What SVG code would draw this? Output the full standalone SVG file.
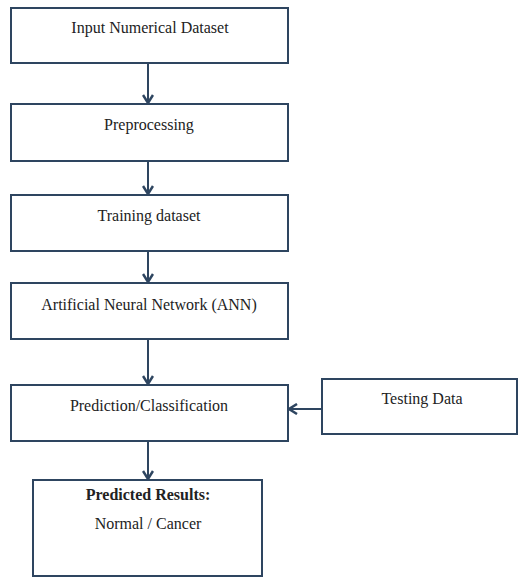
<svg xmlns="http://www.w3.org/2000/svg" width="518" height="578" viewBox="0 0 518 578">
<style>
.box{fill:#fff;stroke:#2e4560;stroke-width:2}
.t{font-family:"Liberation Serif","Times New Roman",serif;font-size:16px;fill:#222;text-anchor:middle}
.b{font-weight:bold}
.c{stroke:#2e4560;stroke-width:2;fill:none}
</style>
<defs>
<marker id="ah" markerWidth="12" markerHeight="12" viewBox="0 0 12 12" refX="10" refY="6" orient="auto" markerUnits="userSpaceOnUse">
<polyline points="2,1 10,6 2,11" fill="none" stroke="#2e4560" stroke-width="2.5"/>
</marker>
</defs>
<rect width="518" height="578" fill="#fff"/>
<g id="connectors">
<line class="c" x1="148" y1="64" x2="148" y2="103" marker-end="url(#ah)"/>
<line class="c" x1="148" y1="162" x2="148" y2="194" marker-end="url(#ah)"/>
<line class="c" x1="148" y1="252" x2="148" y2="282" marker-end="url(#ah)"/>
<line class="c" x1="148" y1="339" x2="148" y2="384" marker-end="url(#ah)"/>
<line class="c" x1="148" y1="442" x2="148" y2="479" marker-end="url(#ah)"/>
<line class="c" x1="322" y1="409" x2="289" y2="409" marker-end="url(#ah)"/>
</g>
<g id="n1"><rect class="box" x="11" y="8" width="277" height="55"/><text class="t" x="150" y="33">Input Numerical Dataset</text></g>
<g id="n2"><rect class="box" x="11" y="104" width="277" height="57"/><text class="t" x="149" y="130">Preprocessing</text></g>
<g id="n3"><rect class="box" x="11" y="195" width="277" height="56"/><text class="t" x="149" y="221">Training dataset</text></g>
<g id="n4"><rect class="box" x="11" y="283" width="277" height="56"/><text class="t" x="149" y="310">Artificial Neural Network (ANN)</text></g>
<g id="n5"><rect class="box" x="11" y="385" width="277" height="56"/><text class="t" x="149" y="411">Prediction/Classification</text></g>
<g id="n6"><rect class="box" x="322" y="379" width="195" height="55"/><text class="t" x="422" y="404">Testing Data</text></g>
<g id="n7"><rect class="box" x="33" y="480" width="229" height="96"/><text class="t b" x="148" y="500">Predicted Results:</text><text class="t" x="148" y="529">Normal / Cancer</text></g>
</svg>
